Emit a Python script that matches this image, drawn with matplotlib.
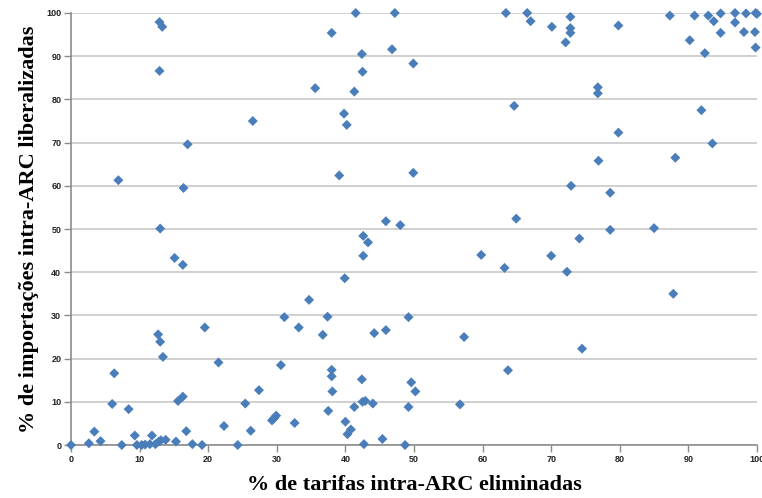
import numpy as np
import matplotlib.pyplot as plt

# % de tarifas eliminadas (x) e % de importações liberalizadas (y)
tarifas = [12.9, 13.3, 12.9, 26.5, 17.0, 6.9, 16.4, 13.0, 41.5, 47.2,
           63.4, 66.5, 67.0, 38.0, 42.4, 46.8, 49.9, 42.5, 35.6, 41.3,
           64.6, 39.8, 40.2, 39.1, 49.9, 45.9, 48.0, 64.9, 42.6, 43.3,
           72.8, 70.1, 72.8, 72.8, 72.1, 79.8, 87.3, 90.9, 92.9, 94.7,
           96.8, 98.4, 99.8, 100.0, 93.7, 96.8, 94.7, 98.1, 99.7, 90.2,
           92.4, 99.8, 76.8, 76.8, 91.9, 79.8, 93.5, 76.9, 88.1, 72.9,
           78.6, 78.6, 85.0, 74.1, 70.0, 72.3, 87.8, 74.5, 42.6, 59.8,
           63.2, 39.9, 34.7, 37.4, 49.2, 33.2, 45.9, 44.2, 36.7, 57.3,
           38.0, 38.0, 42.4, 63.7, 49.6, 50.2, 38.1, 42.5, 42.9, 44.0,
           41.3, 49.2, 56.7, 37.5, 32.6, 40.0, 40.8, 40.3, 42.7, 45.4,
           48.7, 15.1, 16.3, 31.1, 19.5, 12.7, 13.0, 13.4, 21.5, 30.6,
           6.3, 27.4, 16.3, 15.6, 6.0, 25.4, 8.4, 29.9, 29.3, 22.3,
           3.4, 16.8, 26.2, 9.3, 11.8, 4.3, 2.6, 0.0, 7.4, 9.6,
           10.3, 10.8, 11.5, 12.3, 12.8, 13.1, 13.8, 15.3, 17.7, 19.1,
           24.3, 29.6]
importacoes = [97.9, 96.8, 86.6, 75.0, 69.6, 61.3, 59.5, 50.1, 100.0, 100.0,
               100.0, 100.0, 98.1, 95.4, 90.5, 91.6, 88.3, 86.4, 82.6, 81.8,
               78.5, 76.7, 74.1, 62.4, 63.0, 51.8, 50.9, 52.4, 48.4, 46.9,
               99.1, 96.8, 96.5, 95.4, 93.2, 97.1, 99.4, 99.4, 99.4, 99.9,
               100.0, 99.9, 100.0, 99.8, 98.1, 97.8, 95.4, 95.6, 95.6, 93.7,
               90.7, 92.0, 82.8, 81.4, 77.5, 72.3, 69.8, 65.8, 66.5, 60.0,
               58.4, 49.8, 50.2, 47.8, 43.8, 40.1, 35.0, 22.3, 43.8, 44.0,
               41.0, 38.6, 33.6, 29.7, 29.6, 27.2, 26.6, 25.9, 25.5, 25.0,
               17.4, 15.9, 15.2, 17.3, 14.5, 12.4, 12.4, 10.0, 10.2, 9.6,
               8.8, 8.8, 9.4, 7.9, 5.1, 5.4, 3.6, 2.5, 0.2, 1.4,
               0.0, 43.3, 41.7, 29.6, 27.2, 25.6, 23.9, 20.4, 19.1, 18.5,
               16.6, 12.7, 11.2, 10.2, 9.5, 9.6, 8.3, 6.8, 5.7, 4.4,
               3.1, 3.2, 3.3, 2.2, 2.2, 0.9, 0.4, 0.0, 0.0, 0.0,
               0.0, 0.1, 0.2, 0.2, 0.8, 1.1, 1.2, 0.8, 0.2, 0.0,
               0.0, 6.2]

fig = plt.figure(figsize=(7.62, 4.98), dpi=100)
ax = fig.add_axes([0.0932, 0.1064, 0.9002, 0.8675])

ax.scatter(tarifas, importacoes, marker='D', s=26, color='#4A7EBB',
           edgecolors='none', zorder=3, clip_on=False)

ax.set_xlim(0, 100)
ax.set_ylim(0, 100)
ax.set_xticks(np.arange(0, 101, 10))
ax.set_yticks(np.arange(0, 101, 10))
ax.grid(axis='y', color='#D0D0D0', linewidth=1.4)
ax.set_axisbelow(True)

for side in ['top', 'right']:
    ax.spines[side].set_visible(False)
for side in ['left', 'bottom']:
    ax.spines[side].set_color('#8C8C8C')
    ax.spines[side].set_linewidth(1.2)

ax.tick_params(axis='both', direction='out', length=5, width=1,
               color='#8C8C8C', labelsize=6.5, pad=2)
for lbl in ax.get_xticklabels() + ax.get_yticklabels():
    lbl.set_fontweight('bold')
    lbl.set_fontfamily('Liberation Sans')
    lbl.set_color('#222222')

ax.set_xlabel('% de tarifas intra-ARC eliminadas', fontsize=16,
              fontweight='bold', family='Liberation Serif', labelpad=8)
ax.set_ylabel('% de importações intra-ARC liberalizadas', fontsize=16,
              fontweight='bold', family='Liberation Serif', labelpad=5)

fig.savefig('out.png', dpi=100)
